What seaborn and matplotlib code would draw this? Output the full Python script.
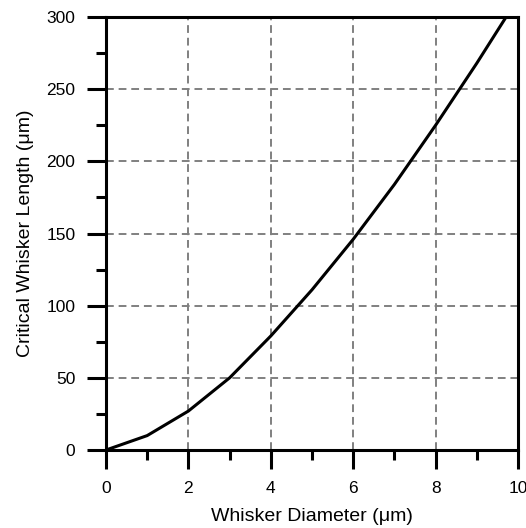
import numpy as np
import pandas as pd
import seaborn as sns
import matplotlib.pyplot as plt

# --- DATA ---
diameter_um = [0, 1, 2, 3, 4, 5, 6, 7, 8, 9, 10]
critical_length_um = [0, 10, 27, 50, 79, 111, 146, 184, 225, 268, 313]

x_major = [0, 2, 4, 6, 8, 10]
x_minor = [1, 3, 5, 7, 9]
y_major = [0, 50, 100, 150, 200, 250, 300]
y_minor = [25, 75, 125, 175, 225, 275]

# --- STYLE ---
sns.set_theme(style="ticks")
plt.rcParams['font.family'] = ['Liberation Sans', 'DejaVu Sans']
plt.rcParams['text.color'] = 'black'
plt.rcParams['axes.labelcolor'] = 'black'
plt.rcParams['xtick.color'] = 'black'
plt.rcParams['ytick.color'] = 'black'

df = pd.DataFrame({'Diameter': diameter_um, 'Length': critical_length_um})

fig = plt.figure(figsize=(5.26, 5.28), dpi=100)
ax = fig.add_axes([0.2015, 0.1477, 0.7833, 0.8201])

sns.lineplot(data=df, x='Diameter', y='Length', ax=ax, color='black', linewidth=2.2)

ax.set_xlim(0, 10)
ax.set_ylim(0, 300)
ax.set_xticks(x_major)
ax.set_xticks(x_minor, minor=True)
ax.set_yticks(y_major)
ax.set_yticks(y_minor, minor=True)

ax.grid(True, which='major', color='#808080', linestyle=(0, (4, 2.5)), linewidth=1.4)
ax.set_axisbelow(True)

for s in ax.spines.values():
    s.set_linewidth(2.2)
    s.set_color('black')

ax.tick_params(which='major', direction='out', length=14, width=2.2, labelsize=12.5, pad=8)
ax.tick_params(which='minor', direction='out', length=7, width=2.2)
ax.tick_params(top=False, right=False, which='both')

ax.set_xlabel('Whisker Diameter (μm)', fontsize=14, labelpad=9)
ax.set_ylabel('Critical Whisker Length (μm)', fontsize=14, labelpad=9)

fig.savefig('out.png', dpi=100)
